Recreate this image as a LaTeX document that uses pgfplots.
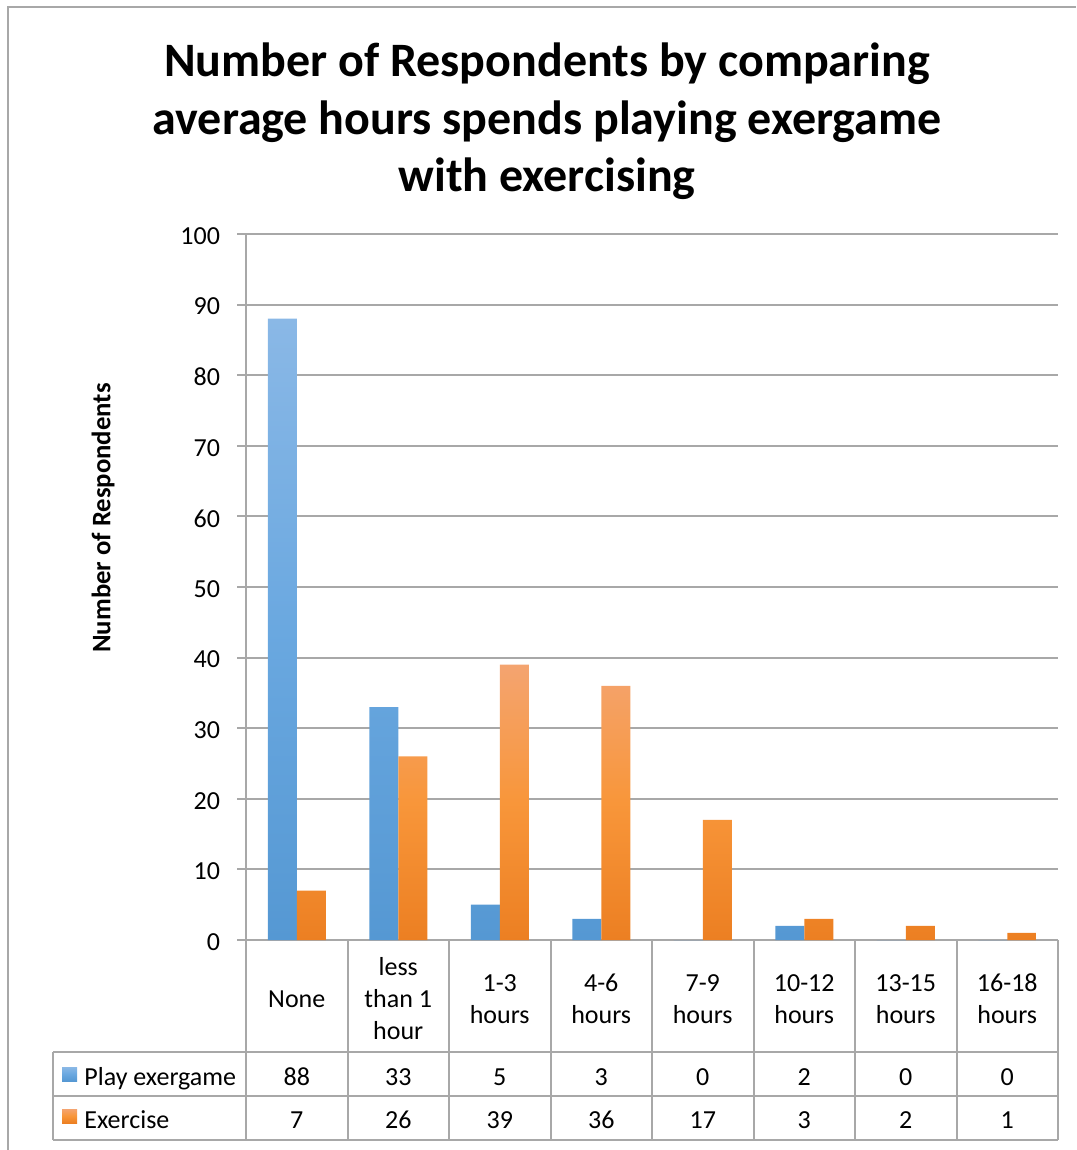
\documentclass[border=0pt]{standalone}
\usepackage{pgfplots}
\pgfplotsset{compat=1.18}
\usepackage{fontspec}
\setmainfont{Carlito}
\definecolor{gridgray}{HTML}{A8A8A8}
\definecolor{blueT}{HTML}{8AB8E6}
\definecolor{blueM}{HTML}{6AA8E0}
\definecolor{blueB}{HTML}{5598D3}
\definecolor{orT}{HTML}{F4A470}
\definecolor{orM}{HTML}{F8963A}
\definecolor{orB}{HTML}{EC7F22}
\begin{document}
\begin{tikzpicture}
\begin{scope}[x=0.5pt,y=-0.5pt]
\useasboundingbox (0,0) rectangle (1076,1150);
\draw[gridgray, line width=1pt] (8,1150) -- (8,7.5) -- (1076,7.5);
\begin{scope}[every node/.style={inner sep=0pt, anchor=base, font=\fontsize{24}{28}\selectfont\bfseries}]
\node at (547,77) {Number of Respondents by comparing};
\node at (547,134.5) {average hours spends playing exergame};
\node at (547,192) {with exercising};
\end{scope}
\node[rotate=90, inner sep=0pt, font=\fontsize{13.35}{16}\selectfont\bfseries] at (103,518) {Number of Respondents};
\end{scope}

\begin{axis}[
  at={(123pt,-470pt)}, anchor=south west,
  scale only axis, width=406pt, height=353pt,
  xmin=-0.5, xmax=7.5, ymin=0, ymax=100,
  ytick={0,10,...,100}, xtick=\empty,
  ybar=0pt, bar width=14.5pt,
  axis x line*=bottom, axis y line*=left,
  axis line style={gridgray, line width=1pt},
  ymajorgrids, grid style={gridgray, line width=1pt},
  tick style={gridgray, line width=1pt}, tick align=outside,
  major tick length=4.5pt,
  y tick label style={font=\fontsize{13}{15}\selectfont, text=black, xshift=-5pt, yshift=-1pt},
  /pgf/number format/assume math mode=true,
  clip=false,
]
\addplot[draw=none, top color=blueT, bottom color=blueB, middle color=blueM]
  coordinates {(0,88) (1,33) (2,5) (3,3) (4,0) (5,2) (6,0) (7,0)};
\addplot[draw=none, top color=orT, bottom color=orB, middle color=orM]
  coordinates {(0,7) (1,26) (2,39) (3,36) (4,17) (5,3) (6,2) (7,1)};
\end{axis}

\begin{scope}[x=0.5pt,y=-0.5pt]
\foreach \xx in {246,347.5,449,550.5,652,753.5,855,956.5,1058}
  \draw[gridgray, line width=1pt] (\xx,940) -- (\xx,1140);
\foreach \yy in {1052,1096,1140}
  \draw[gridgray, line width=1pt] (53,\yy) -- (1058,\yy);
\draw[gridgray, line width=1pt] (53,1052) -- (53,1140);
\shade[top color=blueT, bottom color=blueB, middle color=blueM] (62,1067) rectangle (77,1081);
\shade[top color=orT, bottom color=orB, middle color=orM] (62,1109) rectangle (77,1123);
\begin{scope}[every node/.style={inner sep=0pt, font=\fontsize{13}{16}\selectfont, align=center}]
\node[anchor=base west] at (84,1085.5) {Play exergame};
\node[anchor=base west] at (84,1128.5) {Exercise};
\node at (296.75,999) {None};
\node at (398.25,999) {less\\than 1\\hour};
\node at (499.75,999) {1-3\\hours};
\node at (601.25,999) {4-6\\hours};
\node at (702.75,999) {7-9\\hours};
\node at (804.25,999) {10-12\\hours};
\node at (905.75,999) {13-15\\hours};
\node at (1007.25,999) {16-18\\hours};
\foreach \v [count=\i from 0] in {88,33,5,3,0,2,0,0}
  \node[anchor=base] at (296.75+101.5*\i,1085.5) {\v};
\foreach \v [count=\i from 0] in {7,26,39,36,17,3,2,1}
  \node[anchor=base] at (296.75+101.5*\i,1128.5) {\v};
\end{scope}
\end{scope}
\end{tikzpicture}
\end{document}
